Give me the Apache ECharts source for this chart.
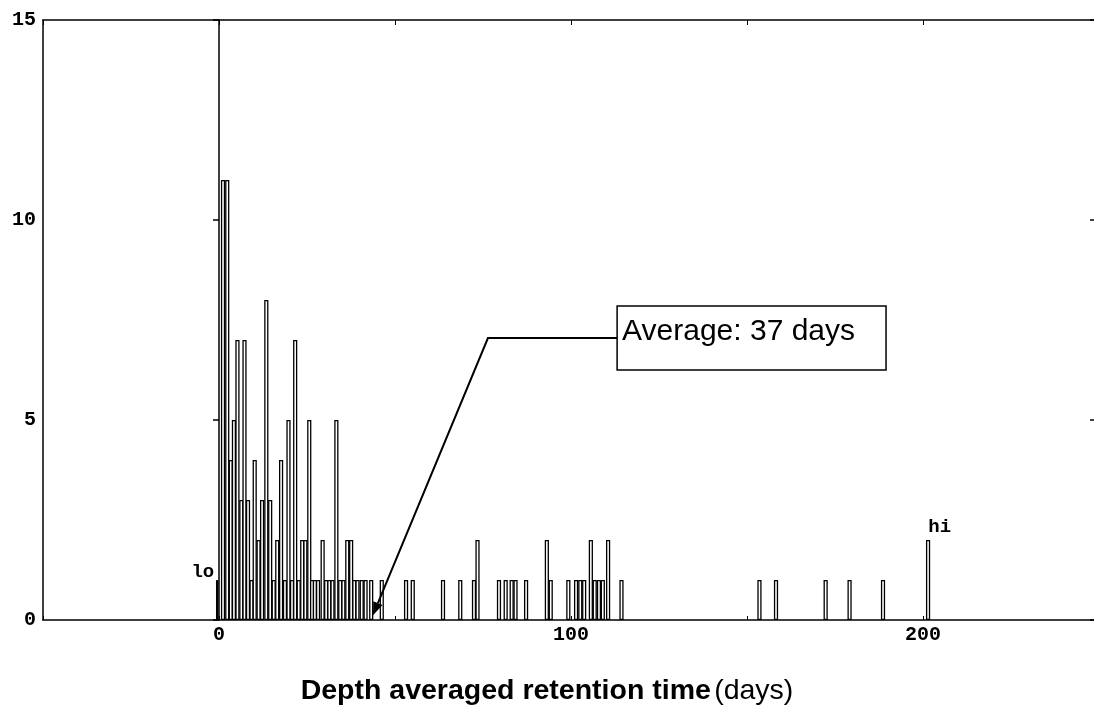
<!DOCTYPE html>
<html><head><meta charset="utf-8">
<script src="https://cdn.jsdelivr.net/npm/echarts@6/dist/echarts.min.js"></script>
<style>html,body{margin:0;padding:0;background:#fff}#c{width:1094px;height:710px}</style>
</head><body><div id="c"></div>
<script>
// ---- data ----
const days = [0.9, 2.1, 3.1, 4.0, 5.0, 6.1, 7.0, 8.0, 9.0, 9.9, 11.0, 12.0, 13.2, 14.3, 15.3, 16.3, 17.4, 18.5, 19.5, 20.5, 21.4, 22.4, 23.4, 24.3, 25.4, 26.2, 27.0, 27.9, 29.2, 30.2, 31.1, 32.0, 33.1, 34.2, 35.1, 36.2, 37.3, 38.2, 39.1, 40.3, 41.4, 43.0, 46.0, 52.9, 54.8, 63.4, 68.3, 72.2, 73.2, 79.3, 81.2, 82.9, 84.0, 87.0, 92.9, 94.0, 99.0, 101.2, 102.4, 103.5, 105.4, 106.5, 107.7, 108.8, 110.3, 114.1, 153.3, 158.0, 172.1, 178.9, 188.4, 201.2];
const counts = [11, 11, 4, 5, 7, 3, 7, 3, 1, 4, 2, 3, 8, 3, 1, 2, 4, 1, 5, 1, 7, 1, 2, 2, 5, 1, 1, 1, 2, 1, 1, 1, 5, 1, 1, 2, 2, 1, 1, 1, 1, 1, 1, 1, 1, 1, 1, 1, 2, 1, 1, 1, 1, 1, 2, 1, 1, 1, 1, 1, 2, 1, 1, 1, 2, 1, 1, 1, 1, 1, 1, 2];
const loDays = [-0.5];
const loCounts = [1];
const xLabelValues = [0, 100, 200];
const xTitleBold = 'Depth averaged retention time';
const xTitleUnit = '(days)';
const annotationText = 'Average: 37 days';
const averageTip = [43.75, 0.12];     // arrow tip (days, count)
const averageElbow = [76.4, 7.18];
const boxCorner1 = [113.1, 7.85];
const boxCorner2 = [189.5, 6.25];

// ---- chart ----
const chart = echarts.init(document.getElementById('c'), null, {renderer: 'canvas'});
const monoFont = {fontFamily: 'Liberation Mono', fontWeight: 'bold', fontSize: 20, color: '#000'};
const black = '#000';

const option = {
  animation: false,
  backgroundColor: '#fff',
  grid: {left: 43, top: 20, width: 1056, height: 600, containLabel: false, outerBoundsMode: 'none'},
  xAxis: [
    {
      type: 'value', min: -50, max: 250, interval: 50, position: 'bottom',
      axisLine: {show: true, onZero: false, lineStyle: {color: black, width: 1.5}},
      axisTick: {show: true, inside: true, length: 4, lineStyle: {color: black}},
      axisLabel: Object.assign({margin: 5, formatter: v => xLabelValues.includes(v) ? String(v) : ''}, monoFont),
      splitLine: {show: false}
    },
    {
      type: 'value', min: -50, max: 250, interval: 50, position: 'top',
      axisLine: {show: true, onZero: false, lineStyle: {color: black, width: 1.5}},
      axisTick: {show: true, inside: true, length: 5, lineStyle: {color: black}},
      axisLabel: {show: false}, splitLine: {show: false}
    }
  ],
  yAxis: [
    {
      type: 'value', min: 0, max: 15, interval: 5, position: 'left',
      axisLine: {show: true, onZero: false, lineStyle: {color: black, width: 1.5}},
      axisTick: {show: false},
      axisLabel: Object.assign({margin: 7}, monoFont),
      splitLine: {show: false}
    },
    {
      type: 'value', min: 0, max: 15, interval: 5, position: 'left',
      axisLine: {show: true, onZero: true, onZeroAxisIndex: 0, lineStyle: {color: black, width: 1.5}},
      axisTick: {show: true, inside: false, length: 6, lineStyle: {color: black, width: 1.5}},
      axisLabel: {show: false}, splitLine: {show: false}
    },
    {
      type: 'value', min: 0, max: 15, interval: 5, position: 'right',
      axisLine: {show: true, onZero: false, lineStyle: {color: black, width: 1.5}},
      axisTick: {show: true, inside: true, length: 9, lineStyle: {color: black, width: 1.5}},
      axisLabel: {show: false}, splitLine: {show: false}
    }
  ],
  series: [
    {
      name: 'counts', type: 'bar', xAxisIndex: 0, yAxisIndex: 0,
      barWidth: 4.2, barGap: '-100%',
      itemStyle: {color: '#fff', borderColor: black, borderWidth: 1.3},
      data: days.map((d, i) => [d, counts[i]])
    },
    {
      name: 'lo', type: 'bar', xAxisIndex: 0, yAxisIndex: 0,
      barWidth: 2.5, barGap: '-100%',
      itemStyle: {color: black, borderColor: black, borderWidth: 1},
      data: loDays.map((d, i) => [d, loCounts[i]])
    }
  ]
};
chart.setOption(option);

function px(pt) { return chart.convertToPixel({xAxisIndex: 0, yAxisIndex: 0}, pt); }

const tip = px(averageTip), elbow = px(averageElbow);
const b1 = px(boxCorner1), b2 = px(boxCorner2);
const boxMidY = (b1[1] + b2[1]) / 2;
const dx = tip[0] - elbow[0], dy = tip[1] - elbow[1];
const len = Math.sqrt(dx * dx + dy * dy);
const ux = dx / len, uy = dy / len;
const aL = 13, aW = 5;
const baseX = tip[0] - ux * aL, baseY = tip[1] - uy * aL;
const arrowPts = [tip, [baseX - uy * aW, baseY + ux * aW], [baseX + uy * aW, baseY - ux * aW]];

const loPt = px([loDays[0], loCounts[0]]);
const hiIdx = days.length - 1;
const hiPt = px([days[hiIdx], counts[hiIdx]]);

chart.setOption({
  graphic: [
    {type: 'rect', shape: {x: b1[0], y: b1[1], width: b2[0] - b1[0], height: b2[1] - b1[1]},
     style: {fill: '#fff', stroke: black, lineWidth: 1.5}, z: 10},
    {type: 'text', x: b1[0] + 5, y: b1[1] + 11, z: 11,
     style: {text: annotationText, font: '30px "Liberation Sans", Arial, sans-serif', fill: black, textVerticalAlign: 'top'}},
    {type: 'polyline', shape: {points: [[b1[0], boxMidY], [elbow[0], boxMidY], [baseX, baseY]]},
     style: {stroke: black, lineWidth: 2, fill: null}, z: 10},
    {type: 'polygon', shape: {points: arrowPts}, style: {fill: black}, z: 10},
    {type: 'text', x: loPt[0] - 3, y: loPt[1] - 8, z: 11,
     style: {text: 'lo', font: 'bold 19px "Liberation Mono", monospace', fill: black, textAlign: 'right', textVerticalAlign: 'middle'}},
    {type: 'text', x: hiPt[0] + 1, y: hiPt[1] - 3, z: 11,
     style: {text: 'hi', font: 'bold 19px "Liberation Mono", monospace', fill: black, textAlign: 'left', textVerticalAlign: 'bottom'}},
    {type: 'text', left: 'center', top: 677, z: 11,
     style: {
       text: '{b|' + xTitleBold + '} {n|' + xTitleUnit + '}',
       rich: {
         b: {fontFamily: 'Liberation Sans', fontWeight: 'bold', fontSize: 28.5, fill: black},
         n: {fontFamily: 'Liberation Sans', fontWeight: 'normal', fontSize: 28.5, fill: black}
       }
     }}
  ]
});
</script>
</body></html>
